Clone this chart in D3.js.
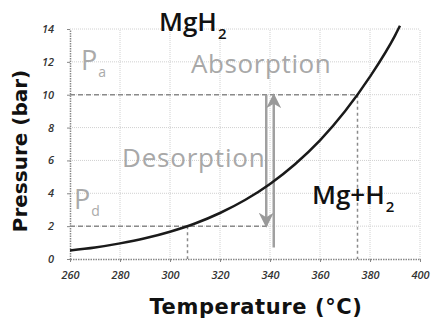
<!DOCTYPE html>
<html><head><meta charset="utf-8">
<script src="https://cdn.jsdelivr.net/npm/d3@7/dist/d3.min.js"></script>
<style>body{margin:0;background:#fff}svg{display:block}text{font-family:"Open Sans",sans-serif}</style>
</head><body><svg id="c" width="435" height="329"></svg>
<script>
// Equilibrium curve (temperature °C, pressure bar)
const temps = [260,270,280,290,300,310,320,330,340,350,360,370,380,390,392];
const pressures = [0.52,0.70,0.95,1.26,1.66,2.16,2.80,3.59,4.57,5.77,7.22,8.99,11.1,13.6,14.2];
const xTicks = [260,280,300,320,340,360,380,400];
const yTicks = [0,2,4,6,8,10,12,14];
// Reference dashed lines: absorption / desorption pressures
const refP = [10, 2];
const refT = [375, 307];
const refHEnd = [375, 340];
// Arrows (temperature, from pressure, to pressure)
const arrowT = [338.5, 341.5];
const arrowFrom = [10, 0.7];
const arrowTo = [2, 10];

const svg = d3.select("#c");
const x = d3.scaleLinear().domain([260,400]).range([70,420]);
const y = d3.scaleLinear().domain([0,14]).range([259,29]);

// grid
svg.append("g").selectAll("line").data(xTicks.slice(1)).join("line")
  .attr("x1",d=>x(d)).attr("x2",d=>x(d)).attr("y1",y(0)).attr("y2",y(14))
  .attr("stroke","#d0d0d0").attr("stroke-dasharray","1,1");
svg.append("g").selectAll("line").data(yTicks.slice(1)).join("line")
  .attr("x1",x(260)).attr("x2",x(400)).attr("y1",d=>y(d)).attr("y2",d=>y(d))
  .attr("stroke","#d0d0d0").attr("stroke-dasharray","1,1");

// axes
const xa = svg.append("g").attr("transform",`translate(0,${y(0)})`)
  .call(d3.axisBottom(x).tickValues(xTicks).tickSize(3).tickSizeOuter(0));
const ya = svg.append("g").attr("transform",`translate(${x(260)},0)`)
  .call(d3.axisLeft(y).tickValues(yTicks).tickSize(3).tickSizeOuter(0));
[xa,ya].forEach(a=>{
  a.select(".domain").attr("stroke","#888").attr("stroke-width",1.5).attr("stroke-dasharray","1.5,1");
  a.selectAll(".tick line").attr("stroke","#888");
  a.selectAll("text").style("font-family","'Open Sans',sans-serif").attr("font-style","italic")
   .attr("font-size",11).attr("font-weight",600).attr("fill","#333");
});
xa.selectAll("text").attr("dy","1.3em");
ya.selectAll("text").attr("dx","-0.9em");

// dashed reference lines
const dash = svg.append("g").attr("stroke","#8a8a8a").attr("stroke-width",1.5).attr("fill","none");
refP.forEach((p,i)=>{
  dash.append("line").attr("x1",x(260)).attr("x2",x(refHEnd[i])).attr("y1",y(p)).attr("y2",y(p))
    .attr("stroke-dasharray","5,3");
  dash.append("line").attr("x1",x(refT[i])).attr("x2",x(refT[i])).attr("y1",y(p)).attr("y2",y(0))
    .attr("stroke-dasharray","3,3");
});

// arrows
const defs = svg.append("defs");
defs.append("marker").attr("id","ah").attr("viewBox","0 0 10 10").attr("refX",9).attr("refY",5)
  .attr("markerWidth",6).attr("markerHeight",6).attr("markerUnits","strokeWidth").attr("orient","auto")
  .append("path").attr("d","M0,0 L10,5 L0,10 L3,5 Z").attr("fill","#999");
arrowT.forEach((t,i)=>{
  svg.append("line").attr("x1",x(t)).attr("x2",x(t)).attr("y1",y(arrowFrom[i])).attr("y2",y(arrowTo[i]))
    .attr("stroke","#a0a0a0").attr("stroke-width",2.5).attr("marker-end","url(#ah)");
});

// curve
svg.append("path").datum(temps.map((t,i)=>[t,pressures[i]]))
  .attr("d",d3.line().x(d=>x(d[0])).y(d=>y(d[1])).curve(d3.curveMonotoneX))
  .attr("fill","none").attr("stroke","#1a1a1a").attr("stroke-width",2.5);

// labels
function sub(px, py, main, s, size, color, subSize, weight){
  const t = svg.append("text").attr("x",px).attr("y",py).attr("font-size",size).attr("fill",color)
    .attr("font-weight",weight||400);
  t.append("tspan").text(main);
  t.append("tspan").attr("font-size",subSize).attr("dx",1).attr("dy",subSize*0.5).text(s);
}
sub(159,31,"MgH","2",26,"#111",15,600);
sub(312,204,"Mg+H","2",26,"#111",15,600);
sub(81,70,"P","a",27,"#aaa",14);
sub(74,209,"P","d",27,"#aaa",14);
svg.append("text").attr("x",191).attr("y",73).attr("font-size",26).attr("letter-spacing",0.6)
  .attr("fill","#a8a8a8").text("Absorption");
svg.append("text").attr("x",122).attr("y",167).attr("font-size",26).attr("letter-spacing",0.8)
  .attr("fill","#a8a8a8").text("Desorption");

svg.append("text").attr("x",256).attr("y",314).attr("text-anchor","middle").attr("font-size",21)
  .attr("letter-spacing",0.6)
  .style("font-family","'DejaVu Sans',sans-serif").attr("font-weight",700).attr("fill","#111")
  .text("Temperature (°C)");
svg.append("text").attr("transform","translate(27,151) rotate(-90)").attr("text-anchor","middle")
  .style("font-family","'DejaVu Sans',sans-serif").attr("font-size",20).attr("font-weight",700)
  .attr("fill","#111").text("Pressure (bar)");
</script></body></html>
